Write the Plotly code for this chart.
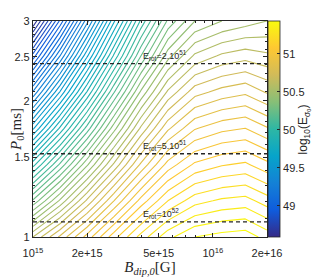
import math
import plotly.graph_objects as go

# Grid
B_dip = [1e15, 1.413e15, 1.995e15, 2.818e15, 3.981e15, 5.623e15, 7.943e15, 1.122e16, 1.514e16, 2e16]
P0 = [1.0, 1.202, 1.445, 1.738, 2.089, 2.512, 3.0]
logE = [
    [50.60, 50.76, 50.92, 51.08, 51.22, 51.335, 51.40, 51.42, 51.43, 51.38],
    [50.26, 50.46, 50.66, 50.85, 51.02, 51.15, 51.23, 51.26, 51.27, 51.225],
    [49.93, 50.16, 50.39, 50.61, 50.81, 50.97, 51.06, 51.095, 51.11, 51.065],
    [49.59, 49.86, 50.12, 50.38, 50.61, 50.79, 50.895, 50.935, 50.95, 50.905],
    [49.256, 49.555, 49.854, 50.146, 50.41, 50.61, 50.73, 50.77, 50.79, 50.745],
    [48.92, 49.25, 49.59, 49.91, 50.20, 50.43, 50.56, 50.61, 50.63, 50.61],
    [48.60, 48.96, 49.33, 49.69, 50.01, 50.26, 50.40, 50.45, 50.476, 50.50],
]
zmin, zmax = 48.59, 51.43

erot_P = [2.415, 1.527, 1.08]
erot_labels = ["E<sub>rot</sub>=2.10<sup>51</sup>", "E<sub>rot</sub>=5.10<sup>51</sup>", "E<sub>rot</sub>=10<sup>52</sup>"]
label_B = 4.0e15

xtick_vals = [1e15, 2e15, 5e15, 1e16, 2e16]
xtick_text = ["10<sup>15</sup>", "2e+15", "5e+15", "10<sup>16</sup>", "2e+16"]
ytick_vals = [1, 1.5, 2, 2.5, 3]
ytick_text = ["1", "1.5", "2", "2.5", "3"]
cb_ticks = [49, 49.5, 50, 50.5, 51]

parula = [
    [0.0, "#352a87"], [0.125, "#0f5cdd"], [0.25, "#1481d6"], [0.375, "#06a4ca"],
    [0.5, "#2eb7a4"], [0.625, "#87bf77"], [0.75, "#d1bb59"], [0.875, "#fec832"],
    [1.0, "#f9fb0e"],
]

fig = go.Figure()
fig.add_trace(go.Contour(
    x=B_dip, y=P0, z=logE,
    zmin=zmin, zmax=zmax, colorscale=parula,
    contours=dict(coloring="lines", start=48.6, end=51.45, size=0.05),
    line=dict(width=1.1, smoothing=0),
    showscale=False,
))
fig.add_trace(go.Scatter(
    x=[B_dip[0], B_dip[0]], y=[P0[0], P0[0]], mode="markers",
    marker=dict(size=0.1, opacity=0, color=[zmin, zmax], cmin=zmin, cmax=zmax,
                colorscale=parula, showscale=True,
                colorbar=dict(x=1.004, xanchor="left", y=0.5, yanchor="middle",
                              len=1, lenmode="fraction", thickness=12,
                              outlinecolor="#262626", outlinewidth=0.8,
                              tickvals=cb_ticks, ticks="inside", ticklen=3,
                              tickcolor="#262626",
                              tickfont=dict(family="Liberation Sans", size=11, color="#262626"),
                              xpad=0, ypad=0)),
    showlegend=False, hoverinfo="skip",
))
for p, lab in zip(erot_P, erot_labels):
    fig.add_trace(go.Scatter(x=[B_dip[0], B_dip[-1]], y=[p, p], mode="lines",
                             line=dict(color="#262626", width=1.4, dash="4px,3px"),
                             showlegend=False, hoverinfo="skip"))
    fig.add_annotation(x=math.log10(label_B), y=math.log10(p), xref="x", yref="y",
                       text=lab, showarrow=False, xanchor="left", yanchor="bottom",
                       yshift=0, font=dict(family="Liberation Sans", size=9, color="#262626"))

fig.add_annotation(x=1.16, y=0.5, xref="paper", yref="paper",
                   text="log<sub>10</sub>(E<sub>σ₀</sub>)", textangle=-90, showarrow=False,
                   xanchor="center", yanchor="middle",
                   font=dict(family="Liberation Sans", size=12, color="#262626"))

axis_common = dict(showline=True, linecolor="#262626", linewidth=1.2, mirror="ticks",
                   ticks="inside", ticklen=4, tickcolor="#262626", showgrid=False, zeroline=False,
                   automargin=False,
                   tickfont=dict(family="Liberation Sans", size=11, color="#262626"))
fig.update_xaxes(type="log", range=[15, 16.30103], tickvals=xtick_vals, ticktext=xtick_text,
                 ticklabelstandoff=6,
                 title=dict(text="<i>B</i><sub><i>dip,0</i></sub>[G]", standoff=1,
                            font=dict(family="Liberation Serif", size=15, color="#262626")),
                 minor=dict(ticks="inside", ticklen=2, tickcolor="#262626",
                            tickvals=[3e15, 4e15, 6e15, 7e15, 8e15, 9e15]),
                 **axis_common)
fig.update_yaxes(type="log", range=[0, 0.4771213], tickvals=ytick_vals, ticktext=ytick_text,
                 title=dict(text="<i>P</i><sub>0</sub>[ms]", standoff=2,
                            font=dict(family="Liberation Serif", size=15, color="#262626")),
                 minor=dict(ticks="inside", ticklen=2, tickcolor="#262626",
                            tickvals=[1.1, 1.2, 1.3, 1.4, 1.6, 1.7, 1.8, 1.9, 2.1, 2.2, 2.3, 2.4, 2.6, 2.7, 2.8, 2.9]),
                 **axis_common)
fig.update_layout(width=322, height=279, margin=dict(l=25, r=63, t=13, b=50, autoexpand=False),
                  plot_bgcolor="white", paper_bgcolor="white", showlegend=False)
fig.write_html("out.html")
